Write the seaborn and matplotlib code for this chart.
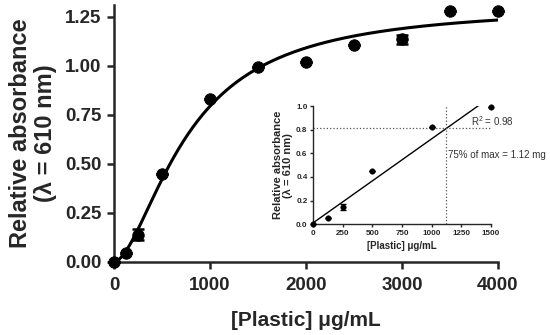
import numpy as np
import pandas as pd
import seaborn as sns
import matplotlib.pyplot as plt
from matplotlib.ticker import FormatStrFormatter

# main binding curve data
conc = [0, 125, 250, 500, 1000, 1500, 2000, 2500, 3000, 3500, 4000]
absorb = [0.0, 0.047, 0.14, 0.45, 0.83, 0.995, 1.02, 1.105, 1.135, 1.28, 1.28]
err = [0, 0, 0.028, 0, 0, 0, 0, 0, 0.025, 0, 0]

# Hill fit parameters (Bmax, K, h)
fit_bmax, fit_k, fit_h = 1.31, 775.0, 1.7

# inset (linear range)
conc_lin = [0, 125, 250, 500, 1000, 1500]
absorb_lin = [0.0, 0.05, 0.145, 0.45, 0.825, 0.995]
err_lin = [0, 0, 0.025, 0, 0, 0]
max75_x, max75_y = 1120, 0.815

sns.set_style("ticks")
plt.rcParams['font.family'] = ['Liberation Sans', 'DejaVu Sans']
plt.rcParams['mathtext.default'] = 'regular'

fig = plt.figure(figsize=(5.5, 3.35), dpi=100)
ax = fig.add_axes([0.2073, 0.218, 0.698, 0.7666])

df = pd.DataFrame({"conc": conc, "absorb": absorb, "err": err})
xs = np.linspace(0, 4000, 400)
curve = pd.DataFrame({"x": xs,
                      "y": fit_bmax * xs**fit_h / (fit_k**fit_h + xs**fit_h)})
sns.lineplot(data=curve, x="x", y="y", ax=ax, color="black", lw=2.2, zorder=2)
ax.errorbar(df.conc, df.absorb, yerr=df.err, fmt="none", ecolor="black",
            elinewidth=1.8, capsize=4, capthick=1.8, zorder=3, clip_on=False)
sns.scatterplot(data=df, x="conc", y="absorb", ax=ax, color="black", s=68,
                edgecolor="black", zorder=4, clip_on=False)

ax.set_xlim(0, 4000)
ax.set_ylim(0, 1.31)
ax.set_xticks([0, 1000, 2000, 3000, 4000])
ax.set_yticks([0, 0.25, 0.5, 0.75, 1.0, 1.25])
ax.yaxis.set_major_formatter(FormatStrFormatter("%.2f"))
for s in ["top", "right"]:
    ax.spines[s].set_visible(False)
for s in ["left", "bottom"]:
    ax.spines[s].set_linewidth(1.8)
ax.tick_params(width=1.8, length=5, labelsize=13.5, pad=4)
ax.tick_params(axis="x", pad=6)
for lab in ax.get_xticklabels() + ax.get_yticklabels():
    lab.set_fontweight("bold")
ax.set_xlabel("[Plastic] μg/mL", fontsize=15, fontweight="bold", labelpad=12)
ax.set_ylabel("Relative absorbance\n(λ = 610 nm)", fontsize=17,
              fontweight="bold", labelpad=6, linespacing=1.1)

# inset
ins = fig.add_axes([0.569, 0.331, 0.3236, 0.352])
dl = pd.DataFrame({"conc": conc_lin, "absorb": absorb_lin, "err": err_lin})
slope, intercept = np.polyfit(dl.conc, dl.absorb, 1)
xl = np.linspace(0, 1500, 50)
sns.lineplot(x=xl, y=slope * xl + intercept, ax=ins, color="black", lw=1.0)
ins.errorbar(dl.conc, dl.absorb, yerr=dl.err, fmt="none", ecolor="black",
             elinewidth=1.0, capsize=2, capthick=1.0, zorder=3)
sns.scatterplot(data=dl, x="conc", y="absorb", ax=ins, color="black", s=16,
                edgecolor="black", zorder=4, clip_on=False)
ins.axhline(max75_y, color="#555555", ls=":", lw=0.9)
ins.axvline(max75_x, color="#555555", ls=":", lw=0.9)
ins.set_xlim(0, 1500)
ins.set_ylim(0, 1.0)
ins.set_xticks([0, 250, 500, 750, 1000, 1250, 1500])
ins.set_yticks([0, 0.2, 0.4, 0.6, 0.8, 1.0])
ins.yaxis.set_major_formatter(FormatStrFormatter("%.1f"))
for s in ["top", "right"]:
    ins.spines[s].set_visible(False)
for s in ["left", "bottom"]:
    ins.spines[s].set_linewidth(1.0)
ins.tick_params(width=1.0, length=2.5, labelsize=5.8, pad=1.5)
for lab in ins.get_xticklabels() + ins.get_yticklabels():
    lab.set_fontweight("bold")
ins.set_xlabel("[Plastic] μg/mL", fontsize=7, fontweight="bold", labelpad=3)
ins.set_ylabel("Relative absorbance\n(λ = 610 nm)", fontsize=8,
               fontweight="bold", labelpad=2, linespacing=1.0)
ins.text(1335, 0.87, "R$^2$ = 0.98", fontsize=7, color="#333333",
         va="center", ha="left", clip_on=False)
ins.text(1135, 0.585, "75% of max = 1.12 mg", fontsize=7, color="#333333",
         va="center", ha="left", clip_on=False)

fig.savefig("out.png", dpi=100)
